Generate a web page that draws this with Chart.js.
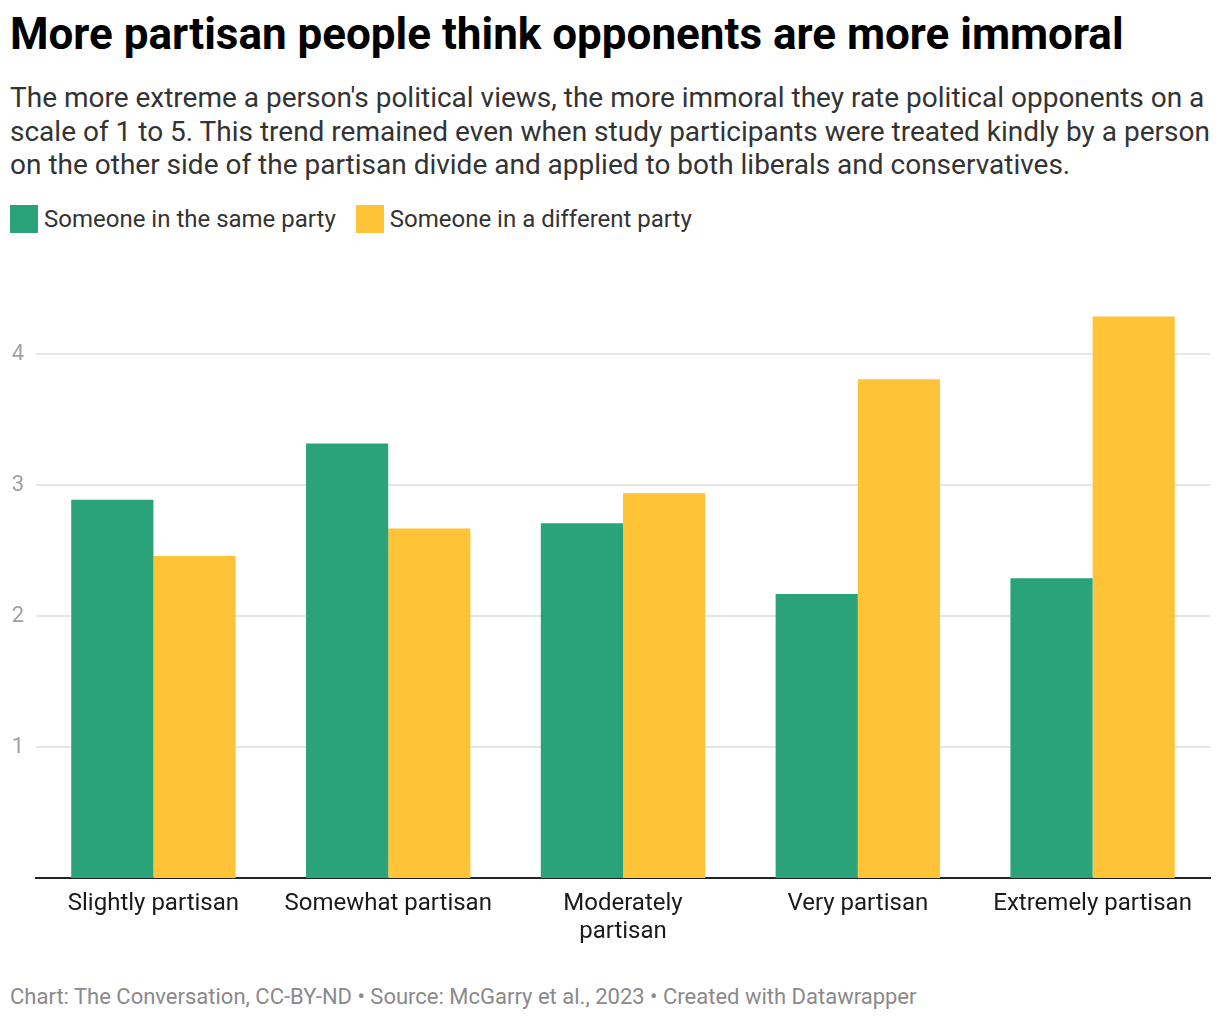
<!DOCTYPE html>
<html>
<head>
<meta charset="utf-8">
<script src="https://cdn.jsdelivr.net/npm/chart.js@4.4.1/dist/chart.umd.min.js"></script>
<style>
  html, body { margin: 0; padding: 0; background: #fff; }
  body { width: 1220px; height: 1020px; position: relative; font-family: Roboto, "Noto Sans", sans-serif; overflow: hidden; }
  #title { position: absolute; left: 10px; top: 8px; font-size: 44px; font-weight: 700; color: #000; white-space: nowrap; }
  #subtitle { position: absolute; left: 10px; top: 81px; width: 1210px; font-size: 28px; line-height: 33.5px; color: #333; }
  #legend { position: absolute; left: 10px; top: 205px; display: flex; align-items: center; font-size: 24px; color: #333; }
  .item { display: flex; align-items: center; margin-right: 20px; }
  .sw { width: 28px; height: 28px; margin-right: 6px; }
  #footer { position: absolute; left: 10px; top: 984px; font-size: 22px; color: #8a8a8a; white-space: nowrap; }
  #wrap { position: absolute; left: 0; top: 290px; width: 1220px; height: 670px; }
</style>
</head>
<body>
<div id="title">More partisan people think opponents are more immoral</div>
<div id="subtitle">The more extreme a person's political views, the more immoral they rate political opponents on a scale of 1 to 5. This trend remained even when study participants were treated kindly by a person on the other side of the partisan divide and applied to both liberals and conservatives.</div>
<div id="legend"></div>
<div id="wrap"><canvas id="c"></canvas></div>
<div id="footer">Chart: The Conversation, CC-BY-ND • Source: McGarry et al., 2023 • Created with Datawrapper</div>
<script>
const categories = [["Slightly partisan"], ["Somewhat partisan"], ["Moderately", "partisan"], ["Very partisan"], ["Extremely partisan"]];
const seriesNames = ["Someone in the same party", "Someone in a different party"];
const sameParty = [2.89, 3.32, 2.71, 2.17, 2.29];
const differentParty = [2.46, 2.67, 2.94, 3.81, 4.29];
const yTicks = [1, 2, 3, 4];
const colors = ["#2aa37a", "#fec337"];

const legend = document.getElementById('legend');
seriesNames.forEach((n, i) => {
  const d = document.createElement('div');
  d.className = 'item';
  d.innerHTML = '<div class="sw" style="background:' + colors[i] + '"></div><span>' + n + '</span>';
  legend.appendChild(d);
});

new Chart(document.getElementById('c'), {
  type: 'bar',
  data: {
    labels: categories,
    datasets: [
      { label: seriesNames[0], data: sameParty, backgroundColor: colors[0], borderWidth: 0 },
      { label: seriesNames[1], data: differentParty, backgroundColor: colors[1], borderWidth: 0 }
    ]
  },
  options: {
    responsive: true,
    maintainAspectRatio: false,
    animation: false,
    layout: { padding: { top: 21, right: 10, left: 0, bottom: 0 } },
    plugins: { legend: { display: false }, tooltip: { enabled: false } },
    datasets: { bar: { categoryPercentage: 0.7, barPercentage: 1.0 } },
    scales: {
      x: {
        grid: { display: false, drawTicks: false },
        border: { display: true, color: '#222', width: 2 },
        ticks: { color: '#1a1a1a', font: { family: 'Roboto', size: 24, lineHeight: 1.17 }, padding: 12, maxRotation: 0, autoSkip: false },
        afterFit: s => { s.height = 82; }
      },
      y: {
        min: 0, max: 4.3,
        afterBuildTicks: s => { s.ticks = yTicks.map(v => ({ value: v })); },
        grid: { color: '#e6e6e6', lineWidth: 2, drawTicks: false },
        border: { display: false },
        ticks: { color: '#a0a0a0', font: { family: 'Roboto', size: 22 }, padding: 12 },
        afterFit: s => { s.width = 36; }
      }
    }
  }
});
</script>
</body>
</html>
